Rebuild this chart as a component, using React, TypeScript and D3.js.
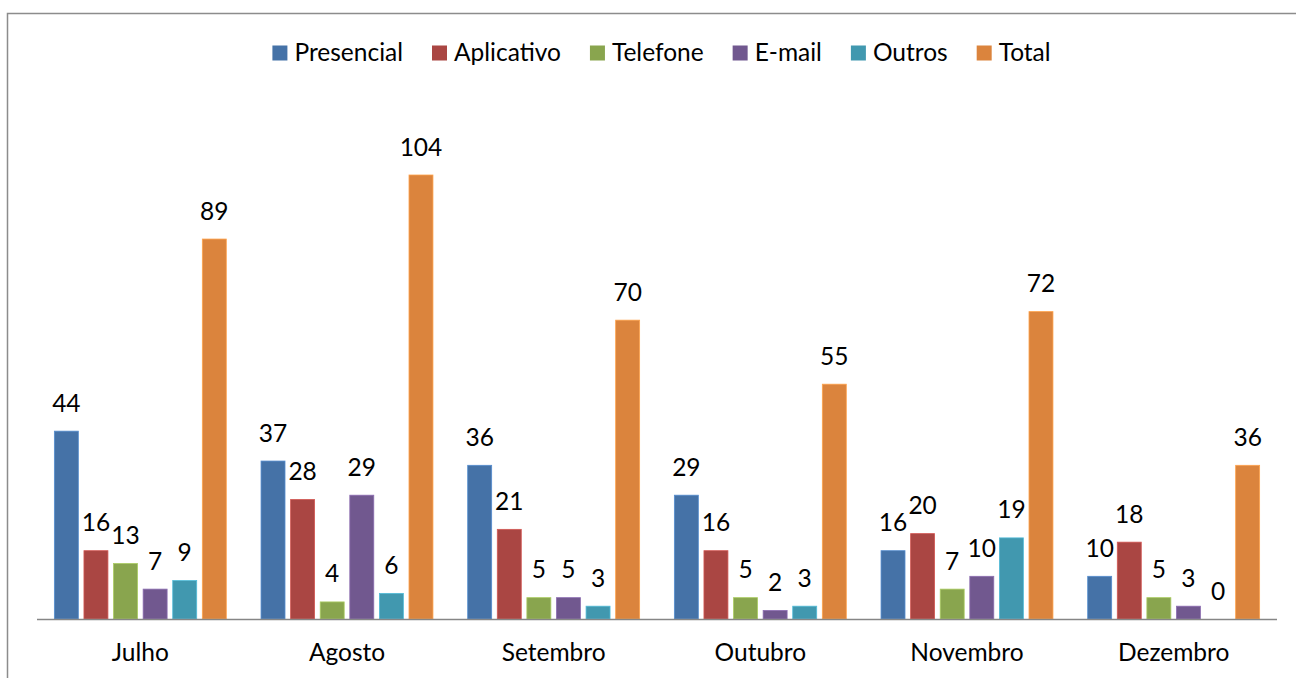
import React, { useEffect, useRef } from 'react';
import * as d3 from 'd3';

const months = ['Julho', 'Agosto', 'Setembro', 'Outubro', 'Novembro', 'Dezembro'];
const seriesNames = ['Presencial', 'Aplicativo', 'Telefone', 'E-mail', 'Outros', 'Total'];
const seriesColors = ['#4572A7', '#AA4643', '#89A54E', '#71588F', '#4198AF', '#DB843D'];

const presencial = [44, 37, 36, 29, 16, 10];
const aplicativo = [16, 28, 21, 16, 20, 18];
const telefone = [13, 4, 5, 5, 7, 5];
const email = [7, 29, 5, 2, 10, 3];
const outros = [9, 6, 3, 3, 19, 0];
const total = [89, 104, 70, 55, 72, 36];

const seriesValues = [presencial, aplicativo, telefone, email, outros, total];

const W = 1296;
const H = 678;
const FONT = 'Lato, "Open Sans", sans-serif';
const FS = 24.5;

export default function App() {
  const svgRef = useRef<SVGSVGElement>(null);

  useEffect(() => {
    if (!svgRef.current) return;
    const svg = d3.select(svgRef.current);
    svg.selectAll('*').remove();

    const left = 37;
    const right = 1277;
    const baseY = 619;

    // outer frame (runs off the right/bottom edge)
    svg.append('rect')
      .attr('x', 7.5).attr('y', 13.5)
      .attr('width', W + 20).attr('height', H + 20)
      .attr('fill', '#fff')
      .attr('stroke', '#8c8c8c')
      .attr('stroke-width', 1.5);

    const x0 = d3.scaleBand<string>().domain(months).range([left, right]).padding(0);
    const x1 = d3.scaleBand<string>()
      .domain(seriesNames)
      .range([0, x0.bandwidth()])
      .paddingInner(0.19)
      .paddingOuter(0.587);
    const y = d3.scaleLinear().domain([0, 104]).range([baseY, 175]);

    const rows = months.flatMap((m, i) =>
      seriesNames.map((s, j) => ({ month: m, series: s, value: seriesValues[j][i], color: seriesColors[j] }))
    );

    svg.append('g')
      .selectAll('rect')
      .data(rows)
      .join('rect')
      .attr('x', d => x0(d.month)! + x1(d.series)!)
      .attr('y', d => y(d.value))
      .attr('width', x1.bandwidth())
      .attr('height', d => baseY - y(d.value))
      .attr('fill', d => d.color)
      .attr('stroke', d => d3.color(d.color)!.brighter(0.6).formatHex())
      .attr('stroke-width', 0.8);

    // value labels
    svg.append('g')
      .selectAll('text')
      .data(rows)
      .join('text')
      .attr('x', d => x0(d.month)! + x1(d.series)! + x1.bandwidth() / 2)
      .attr('y', d => y(d.value) - 19.5)
      .attr('text-anchor', 'middle')
      .attr('font-family', FONT)
      .attr('font-size', FS)
      .attr('fill', '#000')
      .text(d => d.value);

    // baseline
    svg.append('line')
      .attr('x1', left).attr('x2', right)
      .attr('y1', baseY + 0.5).attr('y2', baseY + 0.5)
      .attr('stroke', '#868686')
      .attr('stroke-width', 1.5);

    // category labels
    svg.append('g')
      .selectAll('text')
      .data(months)
      .join('text')
      .attr('x', d => x0(d)! + x0.bandwidth() / 2)
      .attr('y', 661)
      .attr('text-anchor', 'middle')
      .attr('font-family', FONT)
      .attr('font-size', FS)
      .attr('fill', '#000')
      .text(d => d);

    // legend
    const legend = svg.append('g');
    const items = seriesNames.map((name, i) => {
      const g = legend.append('g');
      g.append('rect')
        .attr('x', 0).attr('y', -15.5)
        .attr('width', 15).attr('height', 15)
        .attr('fill', seriesColors[i]);
      const t = g.append('text')
        .attr('x', 22)
        .attr('y', 0)
        .attr('font-family', FONT)
        .attr('font-size', FS)
        .attr('fill', '#000')
        .text(name);
      const w = 22 + (t.node() as SVGTextElement).getComputedTextLength();
      return { g, w };
    });
    const gap = 29;
    const totalW = d3.sum(items, d => d.w) + gap * (items.length - 1);
    let cx = 661.5 - totalW / 2;
    items.forEach(it => {
      it.g.attr('transform', `translate(${cx},61)`);
      cx += it.w + gap;
    });
  }, []);

  return (
    <svg
      ref={svgRef}
      width={W}
      height={H}
      style={{ position: 'absolute', left: 0, top: 0, display: 'block', background: '#fff' }}
    />
  );
}
